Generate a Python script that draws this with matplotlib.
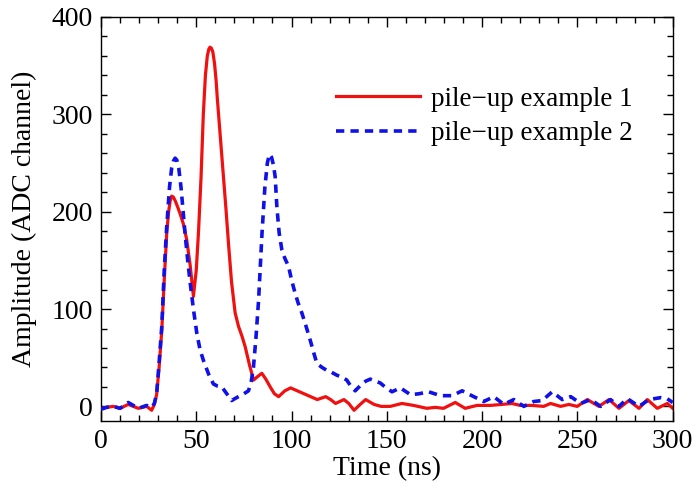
import matplotlib
matplotlib.use("Agg")
import matplotlib.pyplot as plt
from matplotlib.ticker import MultipleLocator

# ---- data ----
t_ex1 = [0, 3, 6.5, 10, 14.3, 19.6, 24, 26.6, 28, 29.2, 30.5, 31.9, 33.2, 34.5, 35.5, 36.3,
         37.1, 38, 39, 40.2, 41.5, 43.3, 45, 46.8, 48.5, 50, 51.2, 52.5, 53.7, 54.8, 55.8,
         56.6, 57.2, 57.9, 58.7, 59.6, 60.4, 61.1, 62.3, 63.5, 64.5, 65.5, 67, 68.5, 70.4,
         72.2, 74, 75.7, 78, 80.1, 81.8, 84.4, 86.5, 88.8, 91, 93.2, 96.5, 99.5, 103, 106.5,
         110, 113.5, 117.9, 120.5, 123.1, 127.5, 130, 132.8, 136, 138.9, 143.3, 147, 151.8,
         157.9, 164, 171, 175.4, 179.7, 185.9, 191.1, 197.3, 204.3, 210.4, 215.6, 220, 226,
         232.3, 235.9, 241.2, 245.5, 249.9, 255.2, 261.3, 266.6, 271.8, 277, 282.3, 286.7,
         291.9, 297.2, 300]
amp_ex1 = [-2, -1, 0, -2, 2, -2, 0, -4, 2, 12, 40, 78, 130, 178, 200, 211,
           216, 215, 211, 205, 198, 187, 171, 145, 113, 140, 180, 235, 300, 340, 360,
           367, 369, 368, 364, 352, 335, 315, 285, 255, 230, 205, 165, 128, 96,
           82, 72, 61, 42, 27, 30, 34, 28, 20, 13, 10, 16, 19, 16, 13,
           10, 7, 10, 7, 3, 7, 3, -4, 2, 7, 2, 0, 0,
           3, 1, -2, -1, -2, 4, -2, 1, 1, 2, 3, 1, 1,
           0, 3, 0, 2, 0, 7, 0, 7, -2, 6, -2, 7,
           -2, 3, -2]

t_ex2 = [0, 3, 6.5, 10, 14.3, 19.6, 24, 26.6, 28, 29.2, 30.5, 31.9, 33.2, 34.5, 36, 37.1,
         38, 38.9, 39.8, 40.8, 42, 44.1, 45.5, 46.8, 48.5, 50.3, 52, 53.8, 56.5, 59, 61,
         63.4, 66, 68.6, 70.3, 72.1, 75, 77.4, 78.8, 80, 81.3, 82.7, 84.5, 86, 87.3, 88.4,
         89.5, 90.5, 91.4, 92.3, 93.5, 94.9, 96.5, 98.4, 100, 101.9, 103.5, 105.4, 107.5,
         109.8, 111.5, 113.3, 116, 118.5, 121, 123.8, 126.5, 129, 131, 133.4, 136.9, 139,
         141.3, 144, 146.6, 149, 152.7, 157.1, 162.4, 167, 171.9, 178.2, 184.3, 189.5,
         195.6, 200.9, 206.1, 211.4, 216.6, 221.9, 227.1, 231.5, 236.8, 242, 246.5,
         251.7, 257, 262.2, 267.4, 271.8, 276.2, 282.3, 287.6, 293.7, 297, 300]
amp_ex2 = [-3, -1, 0, -2, 4, -2, 1, -1, 3, 13, 45, 82, 140, 185, 226, 245,
           252, 255, 253, 245, 225, 178, 150, 127, 100, 75, 58, 47, 33, 23, 21,
           20, 13, 6, 8, 10, 13, 16, 25, 40, 70, 109, 178, 225, 250, 259,
           256, 248, 236, 205, 178, 161, 152, 144, 130, 116, 106, 96, 83,
           68, 56, 44, 40, 37, 35, 32, 30, 27, 21, 16, 23, 26,
           28, 26, 24, 20, 15, 19, 12, 13, 15, 11, 11, 16,
           10, 5, 10, 2, 7, 0, 5, 6, 15, 7, 10,
           3, 7, 0, 7, 0, 8, 0, 7, 9, 8, 4]

series_labels = ["pile\u2212up example 1", "pile\u2212up example 2"]
x_label = "Time (ns)"
y_label = "Amplitude (ADC channel)"

plt.rcParams['font.family'] = ['Liberation Serif', 'DejaVu Serif']

fig = plt.figure(figsize=(6.94, 4.91), dpi=100)
ax = fig.add_axes([0.1455, 0.1426, 0.8238, 0.8228])

l1, = ax.plot(t_ex1, amp_ex1, color='#f01010', lw=2.3, label=series_labels[0], zorder=2,
              solid_joinstyle='round')
l2, = ax.plot(t_ex2, amp_ex2, color='#1010e8', lw=2.6, linestyle=(0, (2.3, 1.7)),
              label=series_labels[1], zorder=3)

ax.set_xlim(0, 300)
ax.set_ylim(-15, 400)
ax.xaxis.set_major_locator(MultipleLocator(50))
ax.xaxis.set_minor_locator(MultipleLocator(10))
ax.yaxis.set_major_locator(MultipleLocator(100))
ax.yaxis.set_minor_locator(MultipleLocator(20))
ax.tick_params(which='both', direction='in', top=True, right=True, labelsize=20, width=1.0)
ax.tick_params(which='major', length=7, pad=6)
ax.tick_params(which='minor', length=4)
for s in ax.spines.values():
    s.set_linewidth(1.0)

ax.set_xlabel(x_label, fontsize=20, labelpad=1)
ax.set_ylabel(y_label, fontsize=20, labelpad=10)

ax.legend(handles=[l1, l2], loc='upper right', bbox_to_anchor=(0.972, 0.888), frameon=False,
          fontsize=19.5, handlelength=3.1, handletextpad=0.4, labelspacing=0.35)

fig.savefig("out.png", dpi=100)
